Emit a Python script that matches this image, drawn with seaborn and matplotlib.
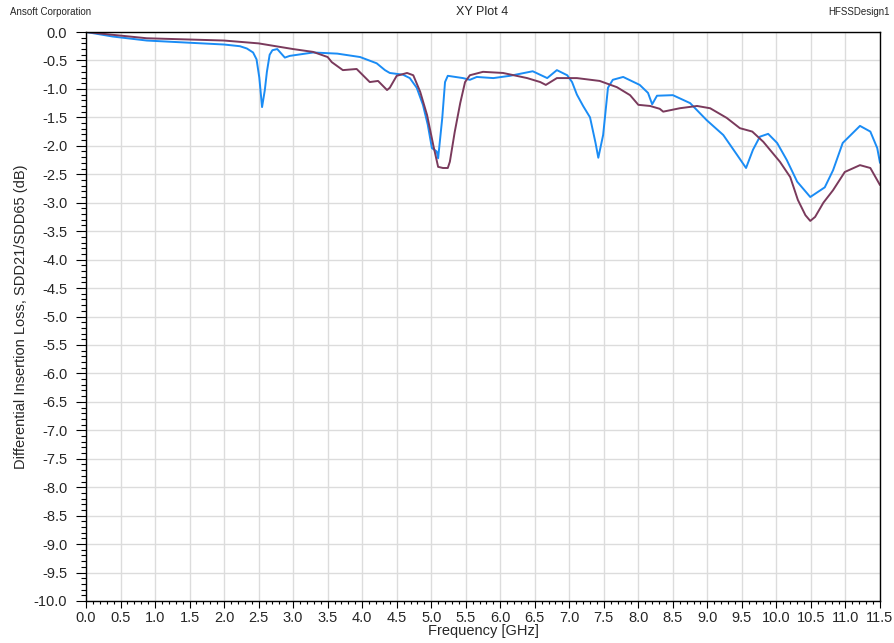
import numpy as np
import pandas as pd
import matplotlib
matplotlib.use('Agg')
import matplotlib.pyplot as plt
from matplotlib.ticker import MultipleLocator
import seaborn as sns

# SDD21 trace (blue)
freq_a = [0.0, 0.39, 0.88, 2.0, 2.23, 2.33, 2.42, 2.47, 2.51, 2.55, 2.59, 2.62, 2.66, 2.7, 2.77, 2.88, 2.95,
          3.29, 3.64, 3.97, 4.21, 4.33, 4.40, 4.59, 4.69, 4.79, 4.88, 4.95, 5.01, 5.08, 5.10,
          5.16, 5.20, 5.24, 5.46, 5.56, 5.66, 5.90, 6.14, 6.47, 6.68, 6.82, 6.97, 7.04, 7.11, 7.2,
          7.3, 7.38, 7.42, 7.49, 7.56, 7.63, 7.78, 8.02, 8.14, 8.20, 8.27, 8.50, 8.75, 8.99, 9.23,
          9.43, 9.56, 9.66, 9.76, 9.88, 10.01, 10.15, 10.30, 10.49, 10.70, 10.82, 10.96,
          11.21, 11.36, 11.46, 11.5]
sdd21 = [0.0, -0.08, -0.15, -0.22, -0.25, -0.29, -0.36, -0.48, -0.8, -1.32, -1.02, -0.7, -0.4, -0.32, -0.3, -0.45, -0.42,
         -0.36, -0.38, -0.44, -0.55, -0.67, -0.72, -0.75, -0.81, -0.98, -1.28, -1.63, -2.04, -2.1, -2.22,
         -1.51, -0.88, -0.77, -0.81, -0.84, -0.79, -0.81, -0.77, -0.69, -0.81, -0.67, -0.76, -0.88, -1.1, -1.3,
         -1.5, -1.95, -2.21, -1.81, -0.98, -0.84, -0.79, -0.93, -1.07, -1.27, -1.12, -1.11, -1.25, -1.55, -1.81,
         -2.16, -2.39, -2.07, -1.84, -1.79, -1.95, -2.25, -2.63, -2.9, -2.73, -2.43, -1.95,
         -1.65, -1.75, -2.04, -2.3]

# SDD65 trace (maroon)
freq_b = [0.0, 0.39, 0.88, 2.0, 2.5, 2.8, 3.0, 3.29, 3.5, 3.56, 3.72, 3.92, 4.11, 4.23, 4.36, 4.40,
          4.50, 4.65, 4.74, 4.84, 4.94, 5.03, 5.10, 5.17, 5.24, 5.27, 5.34, 5.42, 5.49, 5.56,
          5.75, 6.04, 6.39, 6.58, 6.66, 6.82, 7.11, 7.44, 7.69, 7.88, 8.0, 8.17, 8.31, 8.36,
          8.6, 8.85, 9.04, 9.28, 9.47, 9.65, 9.81, 10.05, 10.2, 10.31, 10.42, 10.49, 10.56,
          10.68, 10.82, 10.99, 11.21, 11.36, 11.5]
sdd65 = [0.0, -0.05, -0.11, -0.15, -0.2, -0.26, -0.3, -0.35, -0.44, -0.53, -0.67, -0.65, -0.88, -0.86, -1.02, -0.98,
         -0.77, -0.72, -0.76, -1.05, -1.46, -1.99, -2.37, -2.39, -2.39, -2.28, -1.76, -1.25, -0.88, -0.76,
         -0.7, -0.72, -0.81, -0.88, -0.93, -0.81, -0.81, -0.86, -0.97, -1.11, -1.28, -1.3, -1.35, -1.4,
         -1.34, -1.3, -1.34, -1.51, -1.69, -1.75, -1.93, -2.28, -2.55, -2.95, -3.22, -3.32, -3.25,
         -3.0, -2.78, -2.46, -2.34, -2.39, -2.69]

sns.set_theme(style='white')
plt.rcParams['font.family'] = ['Liberation Sans', 'DejaVu Sans']

fig = plt.figure(figsize=(8.95, 6.43), dpi=100)
ax = fig.add_axes([86/895, 1-601/643, (880-86)/895, (601-32)/643])

df_a = pd.DataFrame({'f': freq_a, 'db': sdd21})
df_b = pd.DataFrame({'f': freq_b, 'db': sdd65})
sns.lineplot(data=df_a, x='f', y='db', color='#1a8cf5', linewidth=1.4, ax=ax)
sns.lineplot(data=df_b, x='f', y='db', color='#7a3a5c', linewidth=1.4, ax=ax)

ax.set_xlim(0, 11.5)
ax.set_ylim(-10, 0)
xt = np.arange(0, 11.51, 0.5)
yt = np.arange(-10, 0.01, 0.5)
ax.set_xticks(xt)
ax.set_xticklabels([f'{v:.1f}' for v in xt])
ax.set_yticks(yt)
ax.set_yticklabels([f'{v:.1f}' for v in yt])
ax.xaxis.set_minor_locator(MultipleLocator(0.1))
ax.yaxis.set_minor_locator(MultipleLocator(0.1))
ax.tick_params(axis='x', which='major', direction='out', length=5, width=0.8,
               labelsize=10.5, pad=2.5, color='black', bottom=True)
ax.tick_params(axis='x', which='minor', direction='out', length=2.5, width=0.8,
               color='black', bottom=True)
ax.tick_params(axis='y', which='major', direction='out', length=7, width=0.8,
               labelsize=10.5, pad=6.5, color='black', left=True)
ax.tick_params(axis='y', which='minor', direction='out', length=3.5, width=0.8,
               color='black', left=True)
ax.grid(True, which='major', color='#dcdcdc', linewidth=1.0)
for s in ax.spines.values():
    s.set_color('black')
    s.set_linewidth(1.0)

ax.set_xlabel('Frequency [GHz]', fontsize=10.5, labelpad=-1)
ax.set_ylabel('Differential Insertion Loss, SDD21/SDD65 (dB)', fontsize=10.5, labelpad=4)

fig.text(10/895, 1-12/643, 'Ansoft Corporation', fontsize=7, ha='left', va='center')
fig.text(482/895, 1-12/643, 'XY Plot 4', fontsize=9, ha='center', va='center')
fig.text(890/895, 1-12/643, 'HFSSDesign1', fontsize=7, ha='right', va='center')

fig.savefig('out.png', dpi=100)
